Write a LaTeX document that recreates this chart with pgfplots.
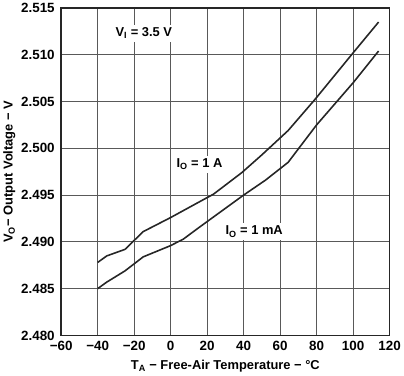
\documentclass[border=0pt]{standalone}
\usepackage{pgfplots}
\pgfplotsset{compat=1.18}
\usepackage{fontspec}
\setmainfont{Liberation Sans}
\begin{document}
\begin{tikzpicture}
\begin{axis}[
  scale only axis,
  width=330bp, height=329bp,
  xmin=-60, xmax=120, ymin=2.480, ymax=2.515,
  xtick={-60,-40,...,120},
  ytick={2.480,2.485,...,2.515},
  xticklabels={\textminus60,\textminus40,\textminus20,0,20,40,60,80,100,120},
  yticklabel style={/pgf/number format/fixed,/pgf/number format/fixed zerofill,/pgf/number format/precision=3, xshift=-3bp},
  xticklabel style={yshift=-2bp},
  /pgf/number format/assume math mode=true,
  ticklabel style={font=\fontsize{13.5}{15}\selectfont\bfseries},
  tick style={draw=none},
  grid=major,
  major grid style={draw=black!65, line width=1pt},
  axis line style={line width=1.4pt, draw=black!85},
  xlabel={\bfseries T\textsubscript{A} \textminus\ Free-Air Temperature \textminus\ \textdegree C},
  ylabel={\bfseries V\textsubscript{O}\textminus\ Output Voltage \textminus\ V},
  label style={font=\fontsize{13}{15}\selectfont},
  xlabel style={yshift=-3pt},
  ylabel style={yshift=-1pt},
  clip=false,
]
% I_O = 1 A
\addplot[black!85, line width=1.6pt] coordinates {
(-40,2.4878) (-35,2.4885) (-25,2.4892) (-15,2.4911) (0,2.4926) (15,2.4942) (23.5,2.4951)
(39,2.4974) (50,2.4993) (64.4,2.5019) (79,2.5052) (100,2.5102) (114,2.5135)};
% I_O = 1 mA
\addplot[black!85, line width=1.6pt] coordinates {
(-40,2.4850) (-35,2.4857) (-25,2.4869) (-15,2.4884) (0,2.4896) (7,2.4903) (15.3,2.4915)
(40,2.4950) (52,2.4966) (64.4,2.4985) (80,2.5025) (100,2.5070) (114,2.5104)};
\node[fill=white, inner sep=3pt, font=\fontsize{13}{15}\selectfont\bfseries] at (axis cs:-14.7,2.5123) {V\textsubscript{I} = 3.5 V};
\node[fill=white, inner sep=3pt, font=\fontsize{13}{15}\selectfont\bfseries] at (axis cs:15.8,2.4983) {I\textsubscript{O} = 1 A};
\node[fill=white, inner sep=3pt, font=\fontsize{13}{15}\selectfont\bfseries] at (axis cs:45.8,2.4911) {I\textsubscript{O} = 1 mA};
\end{axis}
\end{tikzpicture}
\end{document}
